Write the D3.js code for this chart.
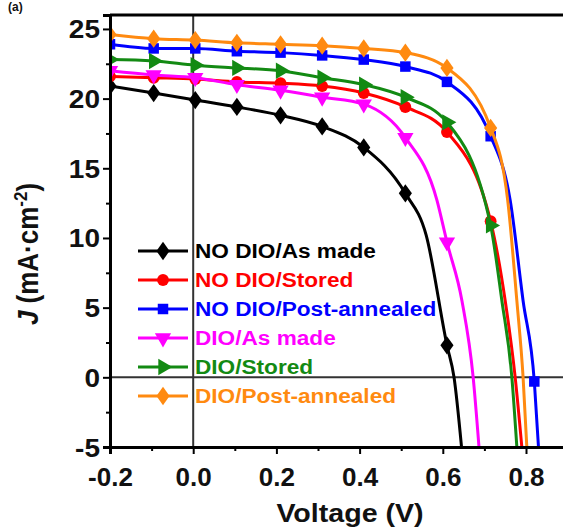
<!DOCTYPE html>
<html>
<head>
<meta charset="utf-8">
<script src="https://cdn.jsdelivr.net/npm/d3@7"></script>
<style>
  body { margin: 0; background: #fff; }
  text { font-family: "Liberation Sans", Arial, sans-serif; font-weight: bold; }
</style>
</head>
<body>
<div id="chart"></div>
<script>
// values
const seriesNames = ["NO DIO/As made", "NO DIO/Stored", "NO DIO/Post-annealed",
                     "DIO/As made", "DIO/Stored", "DIO/Post-annealed"];
const seriesColors = ["#000000", "#ff0000", "#0000ff", "#ff00ff", "#138a13", "#ff8a10"];
const seriesShapes = ["diamond", "circle", "square", "triangleDown", "triangleRight", "diamond"];

// voltages where the markers sit
const markerV = [-0.2, -0.095, 0.005, 0.105, 0.21, 0.31, 0.41, 0.51, 0.61, 0.715, 0.82];

// current density at the markers (mA/cm2)
const noDioAsMadeJ   = [20.9, 20.4, 19.9, 19.4, 18.8, 18.0, 16.5, 13.2, 2.3];
const noDioStoredJ   = [21.6, 21.5, 21.4, 21.2, 21.1, 20.9, 20.4, 19.4, 17.6, 11.2];
const noDioPostJ     = [23.9, 23.6, 23.6, 23.4, 23.3, 23.1, 22.8, 22.3, 21.2, 17.3, -0.3];
const dioAsMadeJ     = [22.0, 21.7, 21.5, 21.0, 20.6, 20.1, 19.6, 17.2, 9.7];
const dioStoredJ     = [22.8, 22.7, 22.4, 22.2, 22.0, 21.5, 21.0, 20.1, 18.3, 10.9];
const dioPostJ       = [24.6, 24.3, 24.2, 24.0, 23.9, 23.8, 23.6, 23.3, 22.2, 17.9];

// extra points of the curve between/after markers (no marker drawn)
const noDioAsMadeTailV = [0.56, 0.627, 0.645];
const noDioAsMadeTailJ = [10.2, 0, -5];
const noDioStoredTailV = [0.75, 0.774, 0.79];
const noDioStoredTailJ = [5.5, 0, -5];
const noDioPostTailV   = [0.762, 0.793, 0.83];
const noDioPostTailJ   = [12.7, 5.5, -5];
const dioAsMadeTailV   = [0.586, 0.646, 0.673, 0.687];
const dioAsMadeTailJ   = [12.7, 5.5, 0, -5];
const dioStoredTailV   = [0.742, 0.766, 0.778];
const dioStoredTailJ   = [5.5, 0, -5];
const dioPostTailV     = [0.756, 0.778, 0.793, 0.802];
const dioPostTailJ     = [12.7, 5.5, 0, -5];

const xTicks = [-0.2, 0.0, 0.2, 0.4, 0.6, 0.8];
const xMinorTicks = [-0.1, 0.1, 0.3, 0.5, 0.7];
const yTicks = [-5, 0, 5, 10, 15, 20, 25];
const yMinorTicks = [-2.5, 2.5, 7.5, 12.5, 17.5, 22.5];

const markJ = [noDioAsMadeJ, noDioStoredJ, noDioPostJ, dioAsMadeJ, dioStoredJ, dioPostJ];
const tailV = [noDioAsMadeTailV, noDioStoredTailV, noDioPostTailV, dioAsMadeTailV, dioStoredTailV, dioPostTailV];
const tailJ = [noDioAsMadeTailJ, noDioStoredTailJ, noDioPostTailJ, dioAsMadeTailJ, dioStoredTailJ, dioPostTailJ];

function chart() {
    const W = 563, H = 529;
    const plot = {l: 110, t: 15, b: 447};

    const svg = d3.select("#chart").append("svg")
        .attr("width", W).attr("height", H);
    svg.append("rect").attr("width", W).attr("height", H).attr("fill", "#fff");

    // x: -0.2..0.8 spans 110..526, plot runs past the right edge
    const x = d3.scaleLinear().domain([-0.2, 0.9]).range([plot.l, plot.l + 416 * 1.1]);
    const y = d3.scaleLinear().domain([-5, 26]).range([plot.b, plot.t]);

    // wider diamond than d3's default
    const wideDiamond = {
        draw(ctx, size) {
            const h = Math.sqrt(size / 1.44), w = 0.72 * h;
            ctx.moveTo(0, -h); ctx.lineTo(w, 0); ctx.lineTo(0, h); ctx.lineTo(-w, 0); ctx.closePath();
        }
    };
    function markerPath(shape) {
        if (shape === "diamond") return d3.symbol().type(wideDiamond).size(120)();
        if (shape === "circle") return d3.symbol().type(d3.symbolCircle).size(110)();
        if (shape === "square") return d3.symbol().type(d3.symbolSquare).size(110)();
        return d3.symbol().type(d3.symbolTriangle).size(115)();
    }
    function markerRot(shape) {
        if (shape === "triangleDown") return " rotate(180)";
        if (shape === "triangleRight") return " rotate(90)";
        return "";
    }

    svg.append("clipPath").attr("id", "clip")
        .append("rect").attr("x", plot.l).attr("y", plot.t - 2)
        .attr("width", W - plot.l).attr("height", plot.b - plot.t + 2);

    // zero lines
    svg.append("line")
        .attr("x1", x(0)).attr("x2", x(0)).attr("y1", plot.t).attr("y2", plot.b)
        .attr("stroke", "#333").attr("stroke-width", 2);
    svg.append("line")
        .attr("x1", plot.l).attr("x2", W).attr("y1", y(0)).attr("y2", y(0))
        .attr("stroke", "#333").attr("stroke-width", 2);

    const curves = svg.append("g").attr("clip-path", "url(#clip)");
    const line = d3.line().x(d => x(d[0])).y(d => y(d[1])).curve(d3.curveMonotoneX);

    for (let i = 0; i < seriesNames.length; i++) {
        let marks = markJ[i].map((j, k) => [markerV[k], j]);
        let pts = marks.concat(tailV[i].map((v, k) => [v, tailJ[i][k]]));
        pts.sort((a, b) => a[0] - b[0]);

        curves.append("path")
            .attr("d", line(pts))
            .attr("fill", "none")
            .attr("stroke", seriesColors[i])
            .attr("stroke-width", 3);

        curves.selectAll(null).data(marks).enter().append("path")
            .attr("d", markerPath(seriesShapes[i]))
            .attr("transform", d => `translate(${x(d[0])},${y(d[1])})` + markerRot(seriesShapes[i]))
            .attr("fill", seriesColors[i]);
    }

    // top frame
    svg.append("line")
        .attr("x1", plot.l).attr("x2", W).attr("y1", plot.t).attr("y2", plot.t)
        .attr("stroke", "#000").attr("stroke-width", 3);

    // x axis
    const xAxis = svg.append("g").attr("transform", `translate(0,${plot.b})`)
        .call(d3.axisBottom(x).tickValues(xTicks).tickSize(7).tickFormat(d3.format(".1f")));
    svg.append("g").attr("transform", `translate(0,${plot.b})`)
        .call(d3.axisBottom(x).tickValues(xMinorTicks).tickSize(4).tickFormat(""))
        .call(g => g.select(".domain").remove())
        .selectAll("line").attr("stroke-width", 2);
    xAxis.select(".domain").attr("stroke-width", 3);
    xAxis.selectAll("line").attr("stroke-width", 2);
    xAxis.selectAll("text")
        .attr("y", 39).attr("dy", null)
        .attr("font-size", 26).attr("fill", "#111")
        .text(d => d3.format(".1f")(d).replace("−", "-"));

    // y axis
    const yAxis = svg.append("g").attr("transform", `translate(${plot.l},0)`)
        .call(d3.axisLeft(y).tickValues(yTicks).tickSize(7));
    svg.append("g").attr("transform", `translate(${plot.l},0)`)
        .call(d3.axisLeft(y).tickValues(yMinorTicks).tickSize(4).tickFormat(""))
        .call(g => g.select(".domain").remove())
        .selectAll("line").attr("stroke-width", 2);
    yAxis.select(".domain").attr("stroke-width", 3);
    yAxis.selectAll("line").attr("stroke-width", 2);
    yAxis.selectAll("text")
        .attr("x", -10 / 1.12).attr("dy", "0.36em")
        .attr("transform", "scale(1.12,1)")
        .attr("font-size", 25).attr("fill", "#111")
        .text(d => String(d).replace("−", "-"));

    // axis titles
    svg.append("text")
        .attr("transform", "translate(350,522) scale(1.1,1)")
        .attr("text-anchor", "middle").attr("font-size", 26).attr("fill", "#111")
        .text("Voltage (V)");

    const yTitle = svg.append("text")
        .attr("transform", "translate(38,254) rotate(-90) scale(1,1.1)")
        .attr("text-anchor", "middle").attr("font-size", 26).attr("fill", "#111");
    yTitle.append("tspan").attr("font-style", "italic").text("J");
    yTitle.append("tspan").text(" (mA·cm");
    yTitle.append("tspan").attr("font-size", 17).attr("dy", -10).text("-2");
    yTitle.append("tspan").attr("dy", 10).text(")");

    // panel letter (cut off at the top of the reference)
    svg.append("text").attr("x", 8).attr("y", 11).attr("font-size", 12).attr("fill", "#111").text("(a)");

    // legend
    const legend = svg.append("g");
    for (let i = 0; i < seriesNames.length; i++) {
        const ly = 251 + 29 * i;
        legend.append("line")
            .attr("x1", 138).attr("x2", 188).attr("y1", ly).attr("y2", ly)
            .attr("stroke", seriesColors[i]).attr("stroke-width", 3);
        legend.append("path")
            .attr("d", markerPath(seriesShapes[i]))
            .attr("transform", `translate(163,${ly})` + markerRot(seriesShapes[i]))
            .attr("fill", seriesColors[i]);
        legend.append("text")
            .attr("transform", `translate(195,${ly + 7}) scale(1.16,1)`)
            .attr("font-size", 19.5).attr("fill", seriesColors[i])
            .text(seriesNames[i]);
    }
}
chart();
</script>
</body>
</html>
